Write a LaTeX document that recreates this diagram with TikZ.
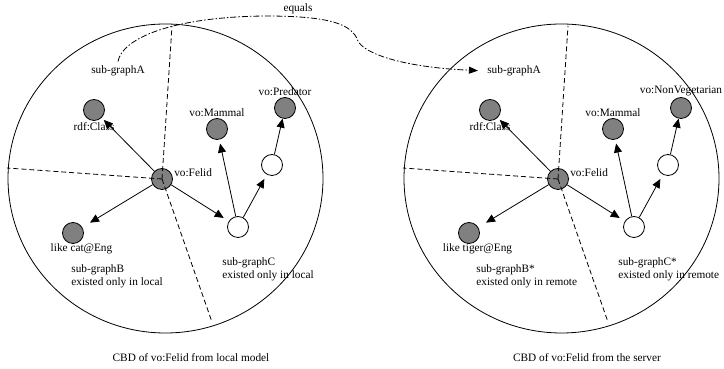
\documentclass[tikz,border=0pt]{standalone}
\usepackage{fontspec}
\setmainfont{Liberation Serif}
\usetikzlibrary{arrows.meta,positioning}

\begin{document}
\begin{tikzpicture}[x=1pt,y=1pt,line width=0.8pt,font=\fontsize{11.3}{13}\selectfont,
  dot/.style={circle,draw,fill=gray,minimum size=21pt,inner sep=0pt},
  hollow/.style={dot,fill=white},
  txt/.style={inner sep=1pt},
  rel/.style={-{Triangle[length=9pt,width=8pt]}},
  cut/.style={dash pattern=on 5pt off 3pt}]
\useasboundingbox (0,0) rectangle (724,369);
\foreach \i/\dx/\bx/\pred/\lit/\sb/\sc/\side/\src in {1/0/70/vo:Predator/like cat@Eng/sub-graphB/sub-graphC/local/local model,2/396/79/vo:NonVegetarian/like tiger@Eng/sub-graphB*/sub-graphC*/remote/the server}{
\begin{scope}[xshift=\dx]
\draw (165.5,190.5) ellipse[x radius=157.5,y radius=154.5];
\node[dot] (felid\i) at (162,190) {};
\node[dot] (cls\i) at (94,259) {};
\node[dot] (mam\i) at (217,240) {};
\node[dot] (pred\i) at (285,261) {};
\node[hollow] (up\i) at (272,204) {};
\node[hollow] (low\i) at (238,142) {};
\node[dot] (lit\i) at (73,136) {};
% labels
\node[txt,right=0pt of felid\i,yshift=6pt] (tfelid\i) {vo:Felid};
\node[txt,below=0pt of cls\i] (tcls\i) {rdf:Class};
\node[txt,above=0pt of mam\i] (tmam\i) {vo:Mammal};
\node[txt,above=0pt of pred\i] (tpred\i) {\pred};
\node[txt,below=-1.5pt of lit\i,xshift=8.5pt] (tlit\i) {\lit};
\node[txt] (suba\i) at (118,298) {sub-graphA};
\node[txt,anchor=west,align=left] (subb\i) at (\bx,92.5) {\sb\\existed only in \side};
\node[txt,anchor=west,align=left] (subc\i) at (221,99.5) {\sc\\existed only in \side};
\node[txt] (cap\i) at (191,11) {CBD of vo:Felid from \src};
% partition
\coordinate (n\i) at (172,343); \coordinate (w\i) at (7,201); \coordinate (s\i) at (212,47);
\draw[cut] (felid\i.center) -- (n\i) (felid\i.center) -- (w\i) (felid\i.center) -- (s\i);
\foreach \a/\b/\gap in {felid/cls/3,felid/lit/9,felid/low/6,low/mam/4,low/up/5,up/pred/0}
  \draw[rel,shorten >=\gap pt] (\a\i) -- (\b\i);
\end{scope}}
\node[txt] (eq) at (298,360) {equals};
\draw[dash pattern=on 6pt off 2pt on 1.5pt off 2pt,-{Triangle[length=9pt,width=7pt]},shorten >=8pt]
  ([yshift=3pt]suba1.north) .. controls (122,330) and (170,352) .. (265,353)
  .. controls (330,353) and (352,345) .. (358,328) .. controls (364,316) and (400,302) .. (suba2.west);
\end{tikzpicture}
\end{document}
